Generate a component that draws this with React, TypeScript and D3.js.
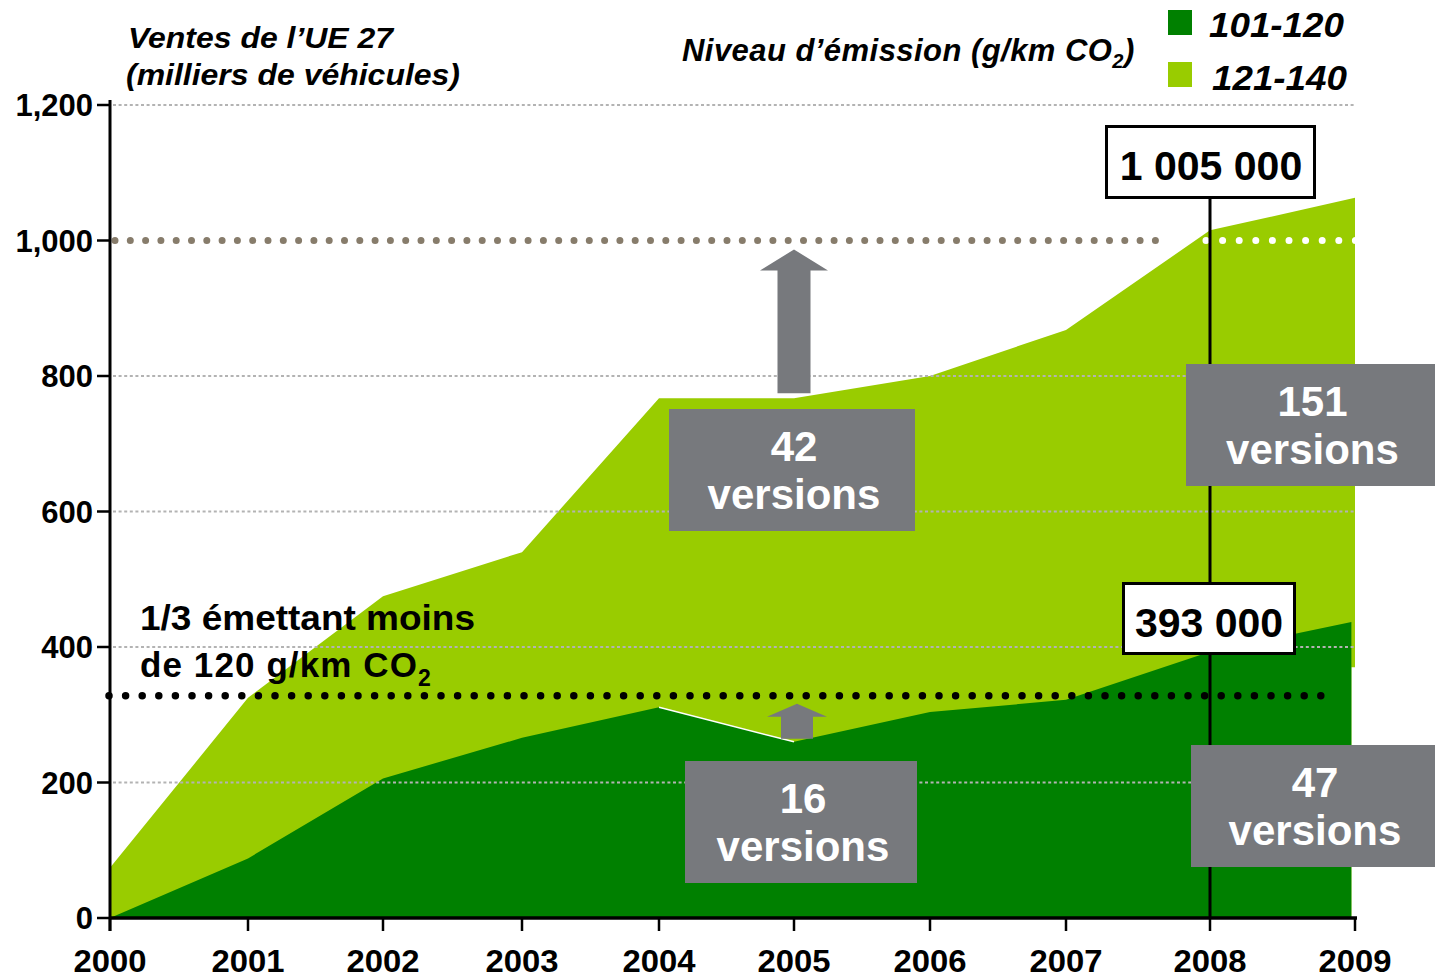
import React from "react";
import * as d3 from "d3";

const years = [2000, 2001, 2002, 2003, 2004, 2005, 2006, 2007, 2008, 2009];
const sales101to120 = [0, 88, 206, 266, 311, 260, 304, 322, 393, 437];
const salesTotal = [74, 325, 475, 540, 767, 767, 800, 868, 1015, 1063];
const lightBottom2009 = 370;
const yTicks = [0, 200, 400, 600, 800, 1000, 1200];
const gridValues = [200, 400, 600, 800, 1200];
const targetValue = 1000;
const oneThirdValue = 328;
const legendItems = [
  { label: "101-120", color: "#008000" },
  { label: "121-140", color: "#99cc00" },
];
const versionBoxes = [
  { top: "42", bottom: "versions", x0: 669, x1: 915, y: 409 },
  { top: "151", bottom: "versions", x0: 1186, x1: 1435, y: 364 },
  { top: "16", bottom: "versions", x0: 685, x1: 917, y: 761 },
  { top: "47", bottom: "versions", x0: 1191, x1: 1435, y: 745 },
];

const W = 1435;
const H = 980;
const DARK = "#008000";
const LIGHT = "#99cc00";
const BOXGRAY = "#77797d";
const FONT = "'Liberation Sans', Arial, Helvetica, sans-serif";

export default function App() {
  const x = d3
    .scaleLinear()
    .domain(years)
    .range([110, 248, 383, 522, 659, 794, 930, 1066, 1210, 1355]);
  const y = d3.scaleLinear().domain([0, 1200]).range([918, 105]);

  const eps = 0.025;
  const lightPts: [number, number][] = [
    ...years.map((yr, i) => [yr, salesTotal[i]] as [number, number]),
    [2009, lightBottom2009],
    [2009 - eps, lightBottom2009],
    [2009 - eps, 0],
    [2000, 0],
  ];
  const line = d3
    .line<[number, number]>()
    .x((d) => x(d[0]))
    .y((d) => y(d[1]));
  const lightPath = line(lightPts) + "Z";

  const darkData = years.map((yr, i) => ({
    yr: i === years.length - 1 ? yr - eps : yr,
    v: sales101to120[i],
  }));
  const darkArea = d3
    .area<{ yr: number; v: number }>()
    .x((d) => x(d.yr))
    .y0(y(0))
    .y1((d) => y(d.v))(darkData);

  const x2008 = x(2008);
  const axisTop = 100;

  const bigArrowTop = y(targetValue) + 9;
  const bigArrowBottom = y(salesTotal[5]) - 5;
  const smallArrowTop = y(oneThirdValue) + 8;
  const smallArrowBottom = y(sales101to120[5]) - 3;
  const arrowPath = (cx: number, top: number, bottom: number, shaftW: number, headW: number, headH: number) =>
    `M${cx - shaftW / 2},${bottom} L${cx - shaftW / 2},${top + headH} L${cx - headW / 2},${top + headH} L${cx},${top} L${cx + headW / 2},${top + headH} L${cx + shaftW / 2},${top + headH} L${cx + shaftW / 2},${bottom} Z`;

  return (
    <svg width={W} height={H} style={{ position: "absolute", left: 0, top: 0, background: "#fff" }} fontFamily={FONT}>
      <rect width={W} height={H} fill="#fff" />
      {/* areas */}
      <path d={lightPath} fill={LIGHT} />
      <path d={darkArea || ""} fill={DARK} />
      <line x1={x(2004)} y1={y(sales101to120[4])} x2={x(2005)} y2={y(sales101to120[5])} stroke="#fff" strokeWidth={1.5} />

      {/* grid lines */}
      {gridValues.map((v) => (
        <line key={v} x1={x(2000) + 3} x2={x(2009)} y1={y(v)} y2={y(v)} stroke="#b3b3b3" strokeWidth={2.2} strokeDasharray="3 2.6" />
      ))}

      {/* target dotted lines */}
      <line x1={x(2000) + 5} x2={1156} y1={y(targetValue)} y2={y(targetValue)} stroke="#877c6b" strokeWidth={7} strokeLinecap="round" strokeDasharray="0 15.3" />
      <line x1={1206} x2={x(2009) + 4} y1={y(targetValue)} y2={y(targetValue)} stroke="#fff" strokeWidth={7} strokeLinecap="round" strokeDasharray="0 16.6" />
      <line x1={x(2000) - 1} x2={1330} y1={y(oneThirdValue)} y2={y(oneThirdValue)} stroke="#000" strokeWidth={7.5} strokeLinecap="round" strokeDasharray="0 16.6" />

      {/* vertical 2008 line */}
      <line x1={x2008} x2={x2008} y1={197} y2={y(0)} stroke="#000" strokeWidth={3} />

      {/* arrows */}
      <path d={arrowPath(x(2005), bigArrowTop, bigArrowBottom, 33, 68, 21)} fill={BOXGRAY} />
      <path d={arrowPath(x(2005) + 3, smallArrowTop, smallArrowBottom, 32, 60, 13)} fill={BOXGRAY} />

      {/* version boxes */}
      {versionBoxes.map((b) => {
        const cx = (b.x0 + b.x1) / 2 + 2;
        return (
          <g key={b.top}>
            <rect x={b.x0} y={b.y} width={b.x1 - b.x0} height={122} fill={BOXGRAY} />
            <text x={cx} y={b.y + 52} textAnchor="middle" fill="#fff" fontWeight="bold" fontSize={42}>
              {b.top}
            </text>
            <text x={cx} y={b.y + 100} textAnchor="middle" fill="#fff" fontWeight="bold" fontSize={42}>
              {b.bottom}
            </text>
          </g>
        );
      })}

      {/* value boxes */}
      <rect x={1106.5} y={126.5} width={208} height={71} fill="#fff" stroke="#000" strokeWidth={3} />
      <text x={1211} y={180} textAnchor="middle" fontWeight="bold" fontSize={41}>1 005 000</text>
      <rect x={1123.5} y={583.5} width={171} height={70} fill="#fff" stroke="#000" strokeWidth={3} />
      <text x={1209} y={637} textAnchor="middle" fontWeight="bold" fontSize={41}>393 000</text>

      {/* y axis */}
      <line x1={x(2000)} x2={x(2000)} y1={axisTop} y2={y(0) + 13} stroke="#000" strokeWidth={3} />
      {yTicks.map((v) => (
        <g key={v}>
          <line x1={x(2000) - 13} x2={x(2000)} y1={y(v)} y2={y(v)} stroke="#000" strokeWidth={2.5} />
          <text x={93} y={y(v) + 11} textAnchor="end" fontWeight="bold" fontSize={31}>
            {d3.format(",")(v)}
          </text>
        </g>
      ))}

      {/* x axis */}
      <line x1={x(2000)} x2={x(2009) + 2} y1={y(0)} y2={y(0)} stroke="#000" strokeWidth={3.5} />
      {years.map((yr) => (
        <g key={yr}>
          <line x1={x(yr)} x2={x(yr)} y1={y(0)} y2={y(0) + 13} stroke="#000" strokeWidth={2.5} />
          <text x={x(yr)} y={972} textAnchor="middle" fontWeight="bold" fontSize={31} textLength={73} lengthAdjust="spacingAndGlyphs">
            {yr}
          </text>
        </g>
      ))}

      {/* titles */}
      <text x={128} y={48} fontWeight="bold" fontStyle="italic" fontSize={30} textLength={265} lengthAdjust="spacingAndGlyphs">Ventes de l’UE 27</text>
      <text x={126} y={85} fontWeight="bold" fontStyle="italic" fontSize={30} textLength={334} lengthAdjust="spacingAndGlyphs">(milliers de véhicules)</text>
      <text x={682} y={61} fontWeight="bold" fontStyle="italic" fontSize={31} letterSpacing={0.45}>
        Niveau d’émission (g/km CO<tspan fontSize={20} dy={7}>2</tspan><tspan dy={-7}>)</tspan>
      </text>

      {/* legend */}
      {legendItems.map((it, i) => (
        <g key={it.label}>
          <rect x={1168} y={10 + i * 52} width={24} height={25} fill={it.color} />
          <text x={1209 + i * 3} y={37 + i * 53} fontWeight="bold" fontStyle="italic" fontSize={35} textLength={135} lengthAdjust="spacingAndGlyphs">
            {it.label}
          </text>
        </g>
      ))}

      {/* annotation */}
      <text x={140} y={630} fontWeight="bold" fontSize={35} textLength={335} lengthAdjust="spacingAndGlyphs">1/3 émettant moins</text>
      <text x={140} y={677} fontWeight="bold" fontSize={35} letterSpacing={1.1}>
        de 120 g/km CO<tspan fontSize={23} dy={9}>2</tspan>
      </text>
    </svg>
  );
}
